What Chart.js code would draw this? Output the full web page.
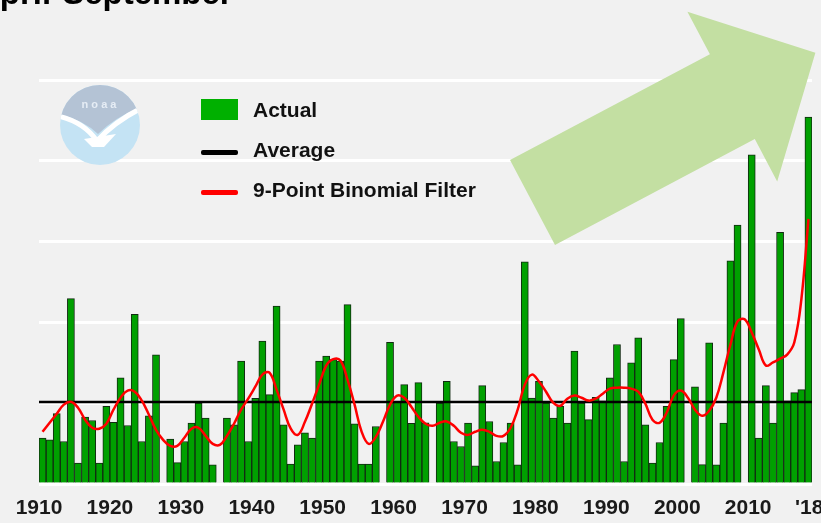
<!DOCTYPE html>
<html><head><meta charset="utf-8">
<script src="https://cdn.jsdelivr.net/npm/chart.js@4.4.0/dist/chart.umd.min.js"></script>
<style>
html,body{margin:0;padding:0;background:#f1f1f1;}
#wrap{position:relative;width:821px;height:523px;overflow:hidden;background:#f1f1f1;}
canvas{position:absolute;left:0;top:0;}
.title{position:absolute;left:-24px;top:-22px;font:bold 33px "Liberation Sans",Arial,sans-serif;line-height:30px;color:#000;white-space:nowrap;}
.leg{position:absolute;left:253px;font:bold 21px "Liberation Sans",Arial,sans-serif;color:#111;line-height:24px;white-space:nowrap;}
.sw{position:absolute;left:201px;}
</style></head>
<body><div id="wrap"><canvas id="c" width="821" height="523"></canvas>
<div class="title">April-September</div>
<div class="sw" style="top:99px;width:37px;height:21px;background:#00b000"></div>
<div class="leg" style="top:98px">Actual</div>
<div class="sw" style="top:150px;width:37px;height:5px;background:#000;border-radius:2px"></div>
<div class="leg" style="top:138px">Average</div>
<div class="sw" style="top:190px;width:37px;height:5px;background:#ff0000;border-radius:2px"></div>
<div class="leg" style="top:178px">9-Point Binomial Filter</div>
</div>
<script>
const years = [1910,1911,1912,1913,1914,1915,1916,1917,1918,1919,
1920,1921,1922,1923,1924,1925,1926,1927,1928,1929,
1930,1931,1932,1933,1934,1935,1936,1937,1938,1939,
1940,1941,1942,1943,1944,1945,1946,1947,1948,1949,
1950,1951,1952,1953,1954,1955,1956,1957,1958,1959,
1960,1961,1962,1963,1964,1965,1966,1967,1968,1969,
1970,1971,1972,1973,1974,1975,1976,1977,1978,1979,
1980,1981,1982,1983,1984,1985,1986,1987,1988,1989,
1990,1991,1992,1993,1994,1995,1996,1997,1998,1999,
2000,2001,2002,2003,2004,2005,2006,2007,2008,2009,
2010,2011,2012,2013,2014,2015,2016,2017,2018];

const actual = [2.84,2.73,4.35,2.63,11.47,1.29,4.14,3.93,1.29,4.80,
3.81,6.57,3.62,10.50,2.63,4.22,7.99,0,2.78,1.32,
2.63,3.77,5.01,4.08,1.18,0,4.08,3.66,7.60,2.63,
5.30,8.84,5.53,11.01,3.66,1.24,2.42,3.17,2.84,7.60,
7.91,7.70,7.60,11.10,3.73,1.24,1.24,3.56,0,8.76,
5.05,6.15,3.75,6.27,3.78,0,5.01,6.35,2.63,2.32,
3.77,1.12,6.09,3.87,1.39,2.57,3.77,1.18,13.75,5.32,
6.35,5.01,4.08,4.80,3.77,8.22,5.01,3.98,5.37,5.15,
6.57,8.63,1.39,7.50,9.05,3.66,1.29,2.57,4.80,7.70,
10.23,0,6.01,1.20,8.74,1.18,3.77,13.81,16.03,0,
20.37,2.84,6.09,3.77,15.57,5.15,5.65,5.84,22.71];

const filter9 = [3.23,3.79,4.35,4.91,5.09,4.72,3.98,3.48,3.42,3.73,
4.60,5.34,5.78,5.71,5.16,4.29,3.35,2.73,2.36,2.36,
2.86,3.42,3.48,2.98,2.48,2.42,2.98,3.73,4.60,5.28,
6.02,6.77,6.89,5.84,4.60,3.42,3.04,3.85,4.97,6.15,
7.33,7.73,7.64,6.46,4.91,3.23,2.48,2.92,3.85,4.91,
5.47,5.34,4.78,4.16,3.73,3.60,3.79,3.87,3.60,3.17,
3.04,3.23,3.35,3.23,2.98,2.98,3.48,4.60,6.15,6.77,
6.34,5.71,5.03,4.84,5.28,5.47,5.34,5.16,5.28,5.59,
5.90,5.96,5.96,5.90,5.71,4.97,3.98,3.79,4.41,5.47,
5.78,5.34,4.60,4.22,4.53,5.34,6.89,8.63,10.06,10.19,
9.38,8.32,7.33,7.52,7.76,8.01,8.76,11.43,16.40];

const averageValue = 5.07;

const tickYears = [1910,1920,1930,1940,1950,1960,1970,1980,1990,2000,2010,2018.6];
const tickLabels = ['1910','1920','1930','1940','1950','1960','1970','1980','1990','2000','2010',"'18"];

const barData = years.map((y,i)=>({x:y+0.5, y:actual[i]}));
const filterData = years.map((y,i)=>({x:y+0.5, y:filter9[i]}));
const avgData = [{x:years[0], y:averageValue},{x:years[years.length-1]+1, y:averageValue}];

const decor = {
  id:'decor',
  afterDraw(chart){
    const c = chart.ctx;
    c.save();
    // NOAA-style logo
    const cx=100, cy=125, r=40;
    c.beginPath(); c.arc(cx,cy,r,0,Math.PI*2); c.closePath();
    c.fillStyle='#c4e3f4'; c.fill();
    c.save(); c.clip();
    c.beginPath();
    c.moveTo(50,80); c.lineTo(150,80); c.lineTo(150,104);
    c.quadraticCurveTo(118,114,98,134);
    c.quadraticCurveTo(82,118,50,112); c.closePath();
    c.fillStyle='#b4c3d5'; c.fill();
    c.beginPath();
    c.moveTo(58,116); c.quadraticCurveTo(84,122,97,141);
    c.quadraticCurveTo(116,120,146,106);
    c.strokeStyle='#ffffff'; c.lineWidth=5; c.stroke();
    c.beginPath(); c.moveTo(84,139); c.lineTo(116,134); c.lineTo(104,147); c.lineTo(92,147); c.closePath();
    c.fillStyle='#fff'; c.fill();
    c.restore();
    c.fillStyle='#e6edf5'; c.font='bold 11px "Liberation Sans",Arial,sans-serif';
    c.textAlign='center'; c.textBaseline='middle';
    c.fillText('n o a a', 99, 105);
    // trend arrow
    c.beginPath();
    c.moveTo(510,160.1); c.lineTo(709.9,54.3); c.lineTo(687.4,11.8);
    c.lineTo(815.4,52.7); c.lineTo(777.2,181.5); c.lineTo(754.8,139.1);
    c.lineTo(555,244.9); c.closePath();
    c.fillStyle='#c3dfa2'; c.fill();
    c.restore();
  }
};

new Chart(document.getElementById('c'), {
  type:'bar',
  data:{datasets:[
    {type:'line', label:'9-Point Binomial Filter', data:filterData, borderColor:'#ff0000', borderWidth:2.5, pointRadius:0, tension:0.4, order:1},
    {type:'line', label:'Average', data:avgData, borderColor:'#000000', borderWidth:2.5, pointRadius:0, order:2},
    {type:'bar', label:'Actual', data:barData, backgroundColor:'#00a000', borderColor:'#122a12', borderWidth:1, barPercentage:1, categoryPercentage:1, order:3}
  ]},
  options:{
    responsive:false, animation:false,
    layout:{padding:{left:39,right:9,top:80,bottom:0}},
    plugins:{legend:{display:false}, tooltip:{enabled:false}},
    scales:{
      x:{type:'linear', min:1910, max:2019, offset:false,
         grid:{display:false, drawTicks:false}, border:{display:false},
         afterBuildTicks: s => { s.ticks = tickYears.map(v=>({value:v})); },
         afterFit: s => { s.height = 39; s.paddingLeft = 0; s.paddingRight = 0; },
         ticks:{autoSkip:false, maxRotation:0, padding:12, color:'#1a1a1a',
           font:{family:'"Liberation Sans",Arial,sans-serif', weight:'bold', size:21},
           callback:(v,i)=>tickLabels[i]}},
      y:{min:0, max:25, ticks:{display:false, stepSize:5},
         grid:{color:'#ffffff', lineWidth:3, drawTicks:false}, border:{display:false}}
    }
  },
  plugins:[decor]
});
</script>
</body></html>
